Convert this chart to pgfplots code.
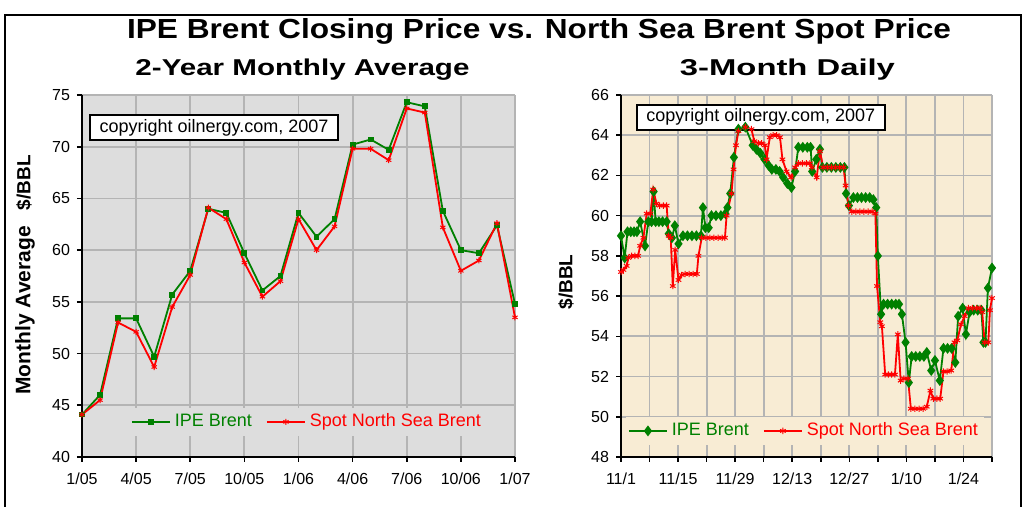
\documentclass[border=0pt]{standalone}
\usepackage{pgfplots}
\pgfplotsset{compat=1.18}
\usepackage{fontspec}
\setmainfont{Liberation Sans}
\usepackage{graphicx}

\definecolor{ipe}{RGB}{0,128,0}
\definecolor{spot}{RGB}{255,0,0}
\definecolor{bgL}{RGB}{221,221,221}
\definecolor{bgR}{RGB}{248,236,212}
\definecolor{gridc}{RGB}{180,180,180}

\pgfplotsset{
 mystyle/.style={
   scale only axis, anchor=south west,
   axis lines=left, axis line style={-, line width=1pt, black},
   tick align=outside, major tick length=2.5pt,
   tick style={black, line width=0.8pt},
   grid=major, major grid style={gridc, line width=0.9pt},
   tick label style={font=\fontsize{8}{9}\selectfont},
   xticklabel style={yshift=-2pt},
   /pgf/number format/assume math mode=true,
   clip=false,
   legend columns=2,
   legend cell align=left,
   legend style={draw=none, font=\fontsize{9}{10}\selectfont, anchor=center, inner sep=1pt,
     /tikz/every even column/.append style={column sep=5pt}},
   legend image code/.code={\draw[mark repeat=2,mark phase=2,##1] plot coordinates {(0cm,0cm) (0.335cm,0cm) (0.67cm,0cm)};},
 }
}

\begin{document}
\begin{tikzpicture}
\useasboundingbox (0,0) rectangle (512.5pt,253.5pt);
\fill[white] (0,0) rectangle (512.5pt,253.5pt);
\draw[line width=1.2pt] (2.5pt,-5pt) -- (2.5pt,246pt) -- (510.5pt,246pt) -- (510.5pt,-5pt);

\node[anchor=base, inner sep=0] at (269.5pt,234pt) {\resizebox{412pt}{10pt}{\bfseries IPE Brent Closing Price vs. North Sea Brent Spot Price}};
\node[anchor=base, inner sep=0] at (151.25pt,215.5pt) {\resizebox{167pt}{8.3pt}{\bfseries 2-Year Monthly Average}};
\node[anchor=base, inner sep=0] at (393.75pt,215.5pt) {\resizebox{107.5pt}{8.3pt}{\bfseries 3-Month Daily}};

\node[rotate=90, inner sep=0] at (12.5pt,116pt) {{\fontsize{10.5}{12}\selectfont\bfseries Monthly Average}\hspace{8pt}{\fontsize{9.5}{11}\selectfont\bfseries \$/BBL}};
\node[rotate=90, inner sep=0] at (283pt,112.5pt) {\fontsize{9.5}{11}\selectfont\bfseries \$/BBL};

% ---------------- left chart ----------------
\begin{axis}[mystyle, at={(41pt,25pt)}, width=216.5pt, height=181pt,
  xmin=0, xmax=24, ymin=40, ymax=75,
  xtick={0,3,...,24},
  xticklabels={1/05,4/05,7/05,10/05,1/06,4/06,7/06,10/06,1/07},
  ytick={40,45,...,75},
  axis background/.style={fill=bgL},
  legend style={at={(0.522,0.097)}, fill=bgL}]
\addplot[ipe, line width=0.9pt, mark=square*, mark size=1pt] coordinates {
(0,44.1) (1,46.0) (2,53.4) (3,53.4) (4,49.7) (5,55.7) (6,58.0) (7,64.0) (8,63.6)
(9,59.7) (10,56.1) (11,57.5) (12,63.6) (13,61.3) (14,63.0) (15,70.2) (16,70.7)
(17,69.7) (18,74.3) (19,73.9) (20,63.8) (21,60.0) (22,59.7) (23,62.4) (24,54.8)};
\addlegendentry{\textcolor{ipe}{IPE Brent}}
\addplot[spot, line width=0.9pt, mark=asterisk, mark size=1.5pt, mark options={line width=0.5pt}] coordinates {
(0,44.1) (1,45.5) (2,53.0) (3,52.1) (4,48.7) (5,54.5) (6,57.6) (7,64.1) (8,63.0)
(9,58.8) (10,55.5) (11,57.0) (12,63.0) (13,60.0) (14,62.3) (15,69.8) (16,69.8)
(17,68.7) (18,73.7) (19,73.3) (20,62.2) (21,58.0) (22,59.0) (23,62.6) (24,53.5)};
\addlegendentry{\textcolor{spot}{Spot North Sea Brent}}
\node[draw=black, line width=1pt, fill=white, inner sep=0, minimum width=124pt, minimum height=12.5pt,
  font=\fontsize{9}{10}\selectfont] at (rel axis cs:0.305,0.910) {copyright oilnergy.com, 2007};
\end{axis}

% ---------------- right chart ----------------
\begin{axis}[mystyle, at={(310.5pt,25pt)}, width=185.5pt, height=181pt,
  xmin=0, xmax=91, ymin=48, ymax=66,
  xtick={0,7,...,91},
  xticklabels={11/1,,11/15,,11/29,,12/13,,12/27,,1/10,,1/24,},
  ytick={48,50,...,66},
  axis background/.style={fill=bgR},
  legend style={at={(0.496,0.072)}, fill=bgR}]
\addplot[ipe, line width=0.9pt, mark=diamond*, mark size=2pt] coordinates {
(0,59.0) (0.9,57.9) (1.6,59.2) (2.4,59.2) (3.2,59.2) (3.9,59.2) (4.7,59.7) (5.9,58.5)
(6.7,59.7) (7.5,59.7) (8.0,61.2) (8.5,59.7) (9.3,59.7) (10.2,59.7) (11.2,59.7) (11.7,59.1)
(12.5,58.9) (13.2,59.5) (14.1,58.6) (15.2,59.0) (16.3,59.0) (17.4,59.0) (18.5,59.0) (19.6,59.0)
(20.1,60.4) (20.7,59.4) (21.5,59.4) (22.2,60.0) (23.3,60.0) (24.5,60.0) (25.6,60.1) (26.1,60.4)
(26.8,61.1) (27.7,62.9) (28.8,64.3) (30.5,64.4) (32.3,63.5) (33.2,63.3) (34.2,63.1) (35.2,62.8)
(36.2,62.5) (37.0,62.3) (38.0,62.3) (38.9,62.2) (39.8,61.9) (40.8,61.6) (41.8,61.4) (42.7,62.2)
(43.5,63.4) (44.6,63.4) (45.7,63.4) (46.5,63.4) (46.9,62.2) (47.9,62.8) (48.8,63.3) (49.4,62.4)
(50.5,62.4) (51.6,62.4) (52.7,62.4) (53.8,62.4) (54.8,62.4) (55.2,61.1) (55.9,60.5) (57.0,60.9)
(58.0,60.9) (59.0,60.9) (60.0,60.9) (61.0,60.9) (61.9,60.8) (62.6,60.4) (63.0,58.0) (63.8,55.1)
(64.4,55.6) (65.4,55.6) (66.4,55.6) (67.4,55.6) (68.2,55.6) (68.9,55.1) (69.8,53.7) (70.6,51.7)
(71.3,53.0) (72.3,53.0) (73.3,53.0) (74.3,53.0) (75.0,53.2) (76.1,52.3) (77.0,52.8) (78.2,51.8)
(79.1,53.4) (80.1,53.4) (81.1,53.4) (82.0,52.7) (82.7,55.0) (83.8,55.4) (84.6,54.1) (85.5,55.2)
(86.5,55.3) (87.5,55.3) (88.4,55.3) (88.9,53.7) (89.4,53.7) (90.0,56.4) (91.0,57.4)};
\addlegendentry{\textcolor{ipe}{IPE Brent}}
\addplot[spot, line width=0.9pt, mark=asterisk, mark size=1.6pt, mark options={line width=0.5pt}] coordinates {
(0,57.2) (0.6,57.3) (1.4,57.5) (1.8,57.9) (2.6,58.0) (3.4,58.0) (4.2,58.0) (4.7,58.5)
(5.5,58.9) (6.3,60.1) (7.2,60.1) (7.9,61.3) (8.7,60.6) (9.5,60.5) (10.4,60.5) (11.2,60.5)
(11.7,59.0) (12.2,58.9) (12.7,56.5) (13.3,58.3) (14.1,56.8) (14.9,57.05) (15.7,57.1) (16.7,57.1)
(17.7,57.1) (18.6,57.1) (19.0,58.0) (19.8,58.9) (20.8,58.9) (21.8,58.9) (22.8,58.9) (23.8,58.9)
(24.8,58.9) (25.5,58.9) (25.9,60.0) (27.1,61.1) (27.6,62.3) (28.2,63.5) (28.8,64.2) (30.5,64.4)
(32.0,64.3) (32.7,63.7) (33.7,63.6) (34.5,63.6) (35.3,63.5) (35.7,62.8) (36.5,63.9) (37.3,64.0)
(38.2,64.0) (39.0,63.9) (39.6,62.8) (40.6,62.2) (41.7,61.9) (42.7,62.4) (43.5,62.6) (44.5,62.6)
(45.5,62.6) (46.3,62.6) (46.8,62.4) (48.0,61.9) (48.8,63.2) (49.6,62.4) (50.6,62.4) (51.6,62.4)
(52.6,62.4) (53.6,62.4) (54.6,62.4) (55.1,61.5) (55.8,60.5) (56.6,60.2) (57.6,60.2) (58.6,60.2)
(59.6,60.2) (60.6,60.2) (61.6,60.2) (62.4,60.1) (62.8,56.5) (63.6,54.7) (64.0,54.5) (64.8,52.1)
(65.6,52.1) (66.4,52.1) (67.2,52.1) (67.9,54.1) (68.6,51.8) (69.4,51.9) (70.4,51.9) (71.1,50.4)
(72.1,50.4) (73.1,50.4) (74.1,50.4) (75.0,50.5) (75.9,51.3) (76.6,50.9) (77.5,50.9) (78.3,50.9)
(79.1,52.25) (80.0,52.25) (81.0,52.3) (81.8,53.7) (82.5,53.8) (83.4,54.6) (84.3,55.0) (85.2,55.4)
(86.2,55.4) (87.2,55.4) (88.1,55.4) (88.6,55.2) (89.2,53.7) (90.1,53.7) (90.5,55.3) (91.0,55.9)};
\addlegendentry{\textcolor{spot}{Spot North Sea Brent}}
\node[draw=black, line width=1pt, fill=white, inner sep=0, minimum width=124pt, minimum height=12.5pt,
  font=\fontsize{9}{10}\selectfont] at (rel axis cs:0.377,0.939) {copyright oilnergy.com, 2007};
\end{axis}
\end{tikzpicture}
\end{document}
